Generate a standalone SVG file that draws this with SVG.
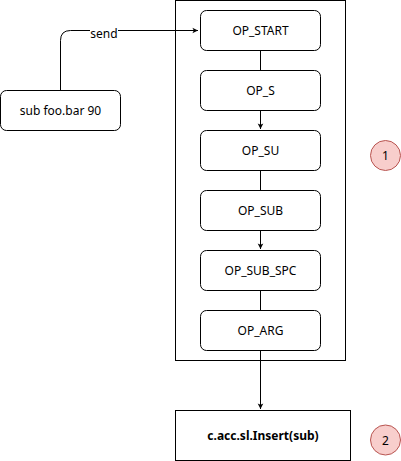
<svg xmlns="http://www.w3.org/2000/svg" width="401" height="461" viewBox="0 0 401 461">
<defs>
<marker id="arr" viewBox="0 0 10 10" refX="9" refY="5" markerWidth="7" markerHeight="7" markerUnits="userSpaceOnUse" orient="auto"><path d="M1,1 L9,5 L1,9 L3,5 Z" fill="#000"/></marker>
<style>
.box{fill:#fff;stroke:#000;stroke-width:1}
.t{font-family:"Noto Sans","Open Sans",sans-serif;font-size:12px;fill:#000;text-anchor:middle}
.b{font-weight:bold}
.c{fill:#f8cecc;stroke:#b85450;stroke-width:1}
.e{fill:none;stroke:#000;stroke-width:1}
</style>
</defs>
<rect width="401" height="461" fill="#fff"/>
<g id="container"><rect class="box" x="175.5" y="0.5" width="170" height="360"/></g>
<g id="connectors">
<path class="e" d="M60.5,90.5 V40.5 Q60.5,30.5 70.5,30.5 H198" marker-end="url(#arr)"/>
<rect x="90" y="26" width="28" height="14" fill="#fff"/>
<text class="t" x="104" y="38">send</text>
<path class="e" d="M260.5,50.5 V70.5"/>
<path class="e" d="M260.5,110.5 V129" marker-end="url(#arr)"/>
<path class="e" d="M260.5,170.5 V190.5"/>
<path class="e" d="M260.5,230.5 V249" marker-end="url(#arr)"/>
<path class="e" d="M260.5,290.5 V310.5"/>
<path class="e" d="M260.5,350.5 V409" marker-end="url(#arr)"/>
</g>
<g id="sub"><rect class="box" x="0.5" y="90.5" width="120" height="40" rx="6"/><text class="t" x="60.5" y="115">sub foo.bar 90</text></g>
<g id="op_start"><rect class="box" x="200.5" y="10.5" width="120" height="40" rx="6"/><text class="t" x="260.5" y="35">OP_START</text></g>
<g id="op_s"><rect class="box" x="200.5" y="70.5" width="120" height="40" rx="6"/><text class="t" x="260.5" y="95">OP_S</text></g>
<g id="op_su"><rect class="box" x="200.5" y="130.5" width="120" height="40" rx="6"/><text class="t" x="260.5" y="155">OP_SU</text></g>
<g id="op_sub"><rect class="box" x="200.5" y="190.5" width="120" height="40" rx="6"/><text class="t" x="260.5" y="215">OP_SUB</text></g>
<g id="op_sub_spc"><rect class="box" x="200.5" y="250.5" width="120" height="40" rx="6"/><text class="t" x="260.5" y="275">OP_SUB_SPC</text></g>
<g id="op_arg"><rect class="box" x="200.5" y="310.5" width="120" height="40" rx="6"/><text class="t" x="260.5" y="335">OP_ARG</text></g>
<g id="insert"><rect class="box" x="175.5" y="410.5" width="175" height="50"/><text class="t b" x="263" y="440">c.acc.sl.Insert(sub)</text></g>
<g id="c1"><circle class="c" cx="385.5" cy="155.5" r="15"/><text class="t" x="385.5" y="160">1</text></g>
<g id="c2"><circle class="c" cx="385.5" cy="440" r="15"/><text class="t" x="385.5" y="444.5">2</text></g>
</svg>
